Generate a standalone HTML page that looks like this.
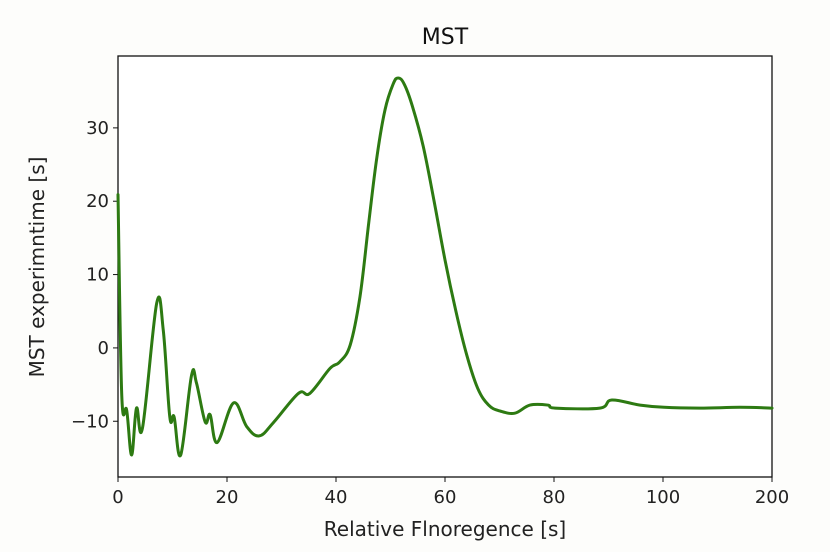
<!DOCTYPE html>
<html><head><meta charset="utf-8">
<style>
html,body{margin:0;padding:0;background:#fdfdfb;}
svg{display:block;font-family:"DejaVu Sans","Liberation Sans",sans-serif;}
</style></head>
<body>
<svg id="chart" width="830" height="552" viewBox="0 0 830 552">
<rect x="0" y="0" width="830" height="552" fill="#fdfdfb"/>
<rect x="118" y="56" width="654" height="421" fill="#ffffff" stroke="#111" stroke-width="1.3"/>
<text x="445" y="44" text-anchor="middle" font-size="22" fill="#111">MST</text>
<text x="445" y="536" text-anchor="middle" font-size="20" fill="#222">Relative Flnoregence [s]</text>
<text transform="translate(44,267) rotate(-90)" text-anchor="middle" font-size="20" fill="#222">MST experimntime [s]</text>
<g id="xticks"></g>
<g id="yticks"></g>
<path id="line" fill="none" stroke="#2d7a12" stroke-width="3" stroke-linejoin="round" stroke-linecap="round"/>
</svg>
<script>
const xValues = [0,0.7,1.6,2.5,3.4,4.5,7.1,8.3,9.5,10.3,11.5,13.5,14.4,16,16.9,18.2,21.2,23.6,25.9,28.5,33.1,35.2,38.9,40.7,42.6,44.4,46,47.5,49,50.5,51.4,52.5,54,56,58,60,62,64,66,68,70.1,72.8,75.6,78.9,80.2,88.4,90.6,95.8,100.2,106.8,114.1,120];
const yValues = [20.9,-6.6,-8.5,-14.6,-8.2,-10.9,6.1,2.5,-9.4,-9.4,-14.6,-3.7,-4.8,-10.1,-9.1,-12.9,-7.5,-10.7,-12,-10.2,-6.2,-6.2,-2.8,-1.9,0.4,7,17,26,32.5,36,36.8,36,33,27.5,20,12,5,-1,-5.5,-7.8,-8.6,-8.9,-7.8,-7.8,-8.2,-8.2,-7.1,-7.8,-8.1,-8.2,-8.1,-8.2];
const xTickValues = [0,20,40,60,80,100,120];
const xTickLabels = ["0","20","40","60","80","100","200"];
const yTickValues = [-10,0,10,20,30];
const yTickLabels = ["\u221210","0","10","20","30"];

const X0=118,X1=772,Y0=477,Y1=56, xMin=0,xMax=120,yMin=-17.6,yMax=39.8;
function sx(v){return X0+(v-xMin)/(xMax-xMin)*(X1-X0);}
function sy(v){return Y0-(v-yMin)/(yMax-yMin)*(Y0-Y1);}
const NS="http://www.w3.org/2000/svg";
const xg=document.getElementById('xticks'), yg=document.getElementById('yticks');
xTickValues.forEach((v,i)=>{
  const l=document.createElementNS(NS,'line');
  l.setAttribute('x1',sx(v));l.setAttribute('x2',sx(v));l.setAttribute('y1',Y0);l.setAttribute('y2',Y0+5);l.setAttribute('stroke','#111');
  
  
  xg.appendChild(l);
  const t=document.createElementNS(NS,'text');
  t.setAttribute('x',sx(v));t.setAttribute('y',Y0+26);t.setAttribute('text-anchor','middle');t.setAttribute('font-size','18');t.setAttribute('fill','#222');
  t.textContent=xTickLabels[i];
  
  
  xg.appendChild(t);
});
yTickValues.forEach((v,i)=>{
  const l=document.createElementNS(NS,'line');
  l.setAttribute('x1',X0-5);l.setAttribute('x2',X0);l.setAttribute('y1',sy(v));l.setAttribute('y2',sy(v));l.setAttribute('stroke','#111');
  
  
  yg.appendChild(l);
  const t=document.createElementNS(NS,'text');
  t.setAttribute('x',X0-9);t.setAttribute('y',sy(v)+6);t.setAttribute('text-anchor','end');t.setAttribute('font-size','18');t.setAttribute('fill','#222');
  t.textContent=yTickLabels[i];
  
  
  yg.appendChild(t);
});
const pts=xValues.map((v,i)=>[sx(v),sy(yValues[i])]);
let d='M'+pts[0][0].toFixed(1)+','+pts[0][1].toFixed(1);
for(let i=0;i<pts.length-1;i++){
  const p0=pts[Math.max(0,i-1)],p1=pts[i],p2=pts[i+1],p3=pts[Math.min(pts.length-1,i+2)];
  const t=0.18;
  const c1=[p1[0]+(p2[0]-p0[0])*t,p1[1]+(p2[1]-p0[1])*t];
  const c2=[p2[0]-(p3[0]-p1[0])*t,p2[1]-(p3[1]-p1[1])*t];
  d+='C'+c1[0].toFixed(1)+','+c1[1].toFixed(1)+' '+c2[0].toFixed(1)+','+c2[1].toFixed(1)+' '+p2[0].toFixed(1)+','+p2[1].toFixed(1);
}
document.getElementById('line').setAttribute('d',d);
</script>
</body></html>
